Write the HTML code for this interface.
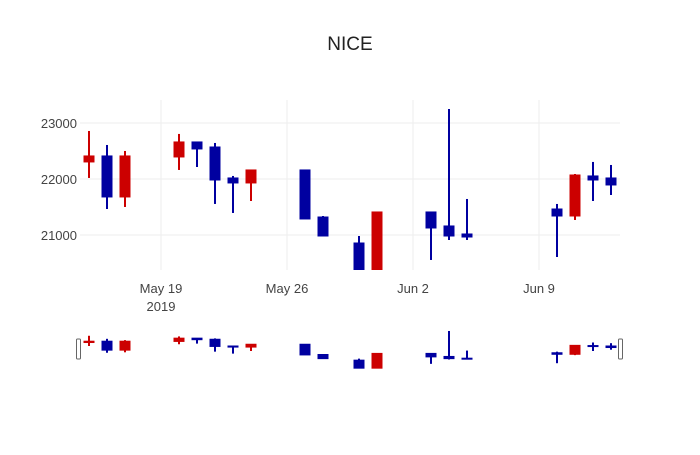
<!DOCTYPE html>
<html><head><meta charset="utf-8"><style>
body{margin:0;background:#fff;}
svg{font-family:"Liberation Sans","DejaVu Sans",sans-serif;}
</style></head><body>
<svg id="chart" width="700" height="450">
<text x="350" y="50" text-anchor="middle" font-size="19" fill="#222">NICE</text>
<g id="grid"></g>
<g id="main"></g>
<g id="slider"></g>
<g id="axes"></g>
</svg>
<script>
const dates = ["2019-05-15","2019-05-16","2019-05-17","2019-05-20","2019-05-21","2019-05-22","2019-05-23","2019-05-24","2019-05-27","2019-05-28","2019-05-30","2019-05-31","2019-06-03","2019-06-04","2019-06-05","2019-06-10","2019-06-11","2019-06-12","2019-06-13"];
const opens = [22304,22411,21679,22393,22661,22571,22018,21929,22161,21321,20857,20200,21411,21161,21018,21464,21339,22054,22018];
const highs = [22857,22607,22500,22804,22661,22643,22054,22161,22161,21339,20982,21411,21411,23250,21643,21554,22089,22304,22250];
const lows = [22018,21464,21500,22161,22214,21554,21393,21607,21286,20982,20200,20200,20554,20911,20911,20607,21268,21607,21714];
const closes = [22411,21679,22411,22661,22536,21982,21929,22161,21286,20982,20200,21411,21125,20982,20964,21339,22071,21982,21893];
const yTicks = [21000,22000,23000];
const xTicks = ["2019-05-19","2019-05-26","2019-06-02","2019-06-09"];
const xTickLabels = ["May 19","May 26","Jun 2","Jun 9"];

const NS="http://www.w3.org/2000/svg";
const X0=80,X1=620, d0=Date.parse("2019-05-14T12:00:00Z"), d1=Date.parse("2019-06-13T12:00:00Z");
const day=86400000;
function x(ds){return X0+(Date.parse(ds+"T00:00:00Z")-d0)/(d1-d0)*(X1-X0);}
const Y0=100,Y1=270, ymax=23410, ymin=20375;
function y(v){return Y0+(ymax-v)/(ymax-ymin)*(Y1-Y0);}
const SY0=330,SY1=370, smax=23330, smin=20050;
function sy(v){return SY0+(smax-v)/(smax-smin)*(SY1-SY0);}
function el(tag,attrs,parent){const e=document.createElementNS(NS,tag);for(const k in attrs)e.setAttribute(k,attrs[k]);parent.appendChild(e);return e;}
const grid=document.getElementById('grid'),main=document.getElementById('main'),slider=document.getElementById('slider'),axes=document.getElementById('axes');
yTicks.forEach(t=>{
  const l=el('line',{x1:X0,x2:X1,y1:y(t),y2:y(t),stroke:'#eee','stroke-width':1},grid);
  
  
  const tx=el('text',{x:X0-3,y:y(t)+5,'text-anchor':'end','font-size':13,fill:'#444'},axes);
  tx.textContent=t;
  
  
});
xTicks.forEach((t,i)=>{
  const xx=x(t);
  const l=el('line',{x1:xx,x2:xx,y1:Y0,y2:Y1,stroke:'#eee','stroke-width':1},grid);
  
  
  const tx=el('text',{x:xx,y:293,'text-anchor':'middle','font-size':13,fill:'#444'},axes);
  tx.textContent=xTickLabels[i];
  
  
});
const yr=el('text',{x:x(xTicks[0]),y:311,'text-anchor':'middle','font-size':13,fill:'#444'},axes);
yr.textContent="2019";


const clip=el('clipPath',{id:'pc'},document.getElementById('chart'));
el('rect',{x:X0,y:Y0,width:X1-X0,height:Y1-Y0},clip);
main.setAttribute('clip-path','url(#pc)');
function candle(parent,i,fy,bw,ww,name){
  const up=closes[i]>=opens[i];
  const c=up?'#cc0000':'#0000a0';
  const xx=x(dates[i]);
  const g=el('g',{},parent);
  
  
  el('line',{x1:xx,x2:xx,y1:fy(highs[i]),y2:fy(lows[i]),stroke:c,'stroke-width':ww},g);
  const top=fy(Math.max(opens[i],closes[i])),bot=fy(Math.min(opens[i],closes[i]));
  el('rect',{x:xx-bw/2,y:top,width:bw,height:Math.max(bot-top,1),fill:c,stroke:c,'stroke-width':1},g);
}
for(let i=0;i<dates.length;i++){candle(main,i,y,10,2,'candle-'+dates[i]);candle(slider,i,sy,10,2,'slider-candle-'+dates[i]);}
[X0-2,X1].forEach((hx,k)=>{
  const h=el('rect',{x:hx-1.5,y:339,width:4,height:20,rx:1,fill:'#fff',stroke:'#666','stroke-width':1},slider);
  
  
});
</script>
</body></html>
